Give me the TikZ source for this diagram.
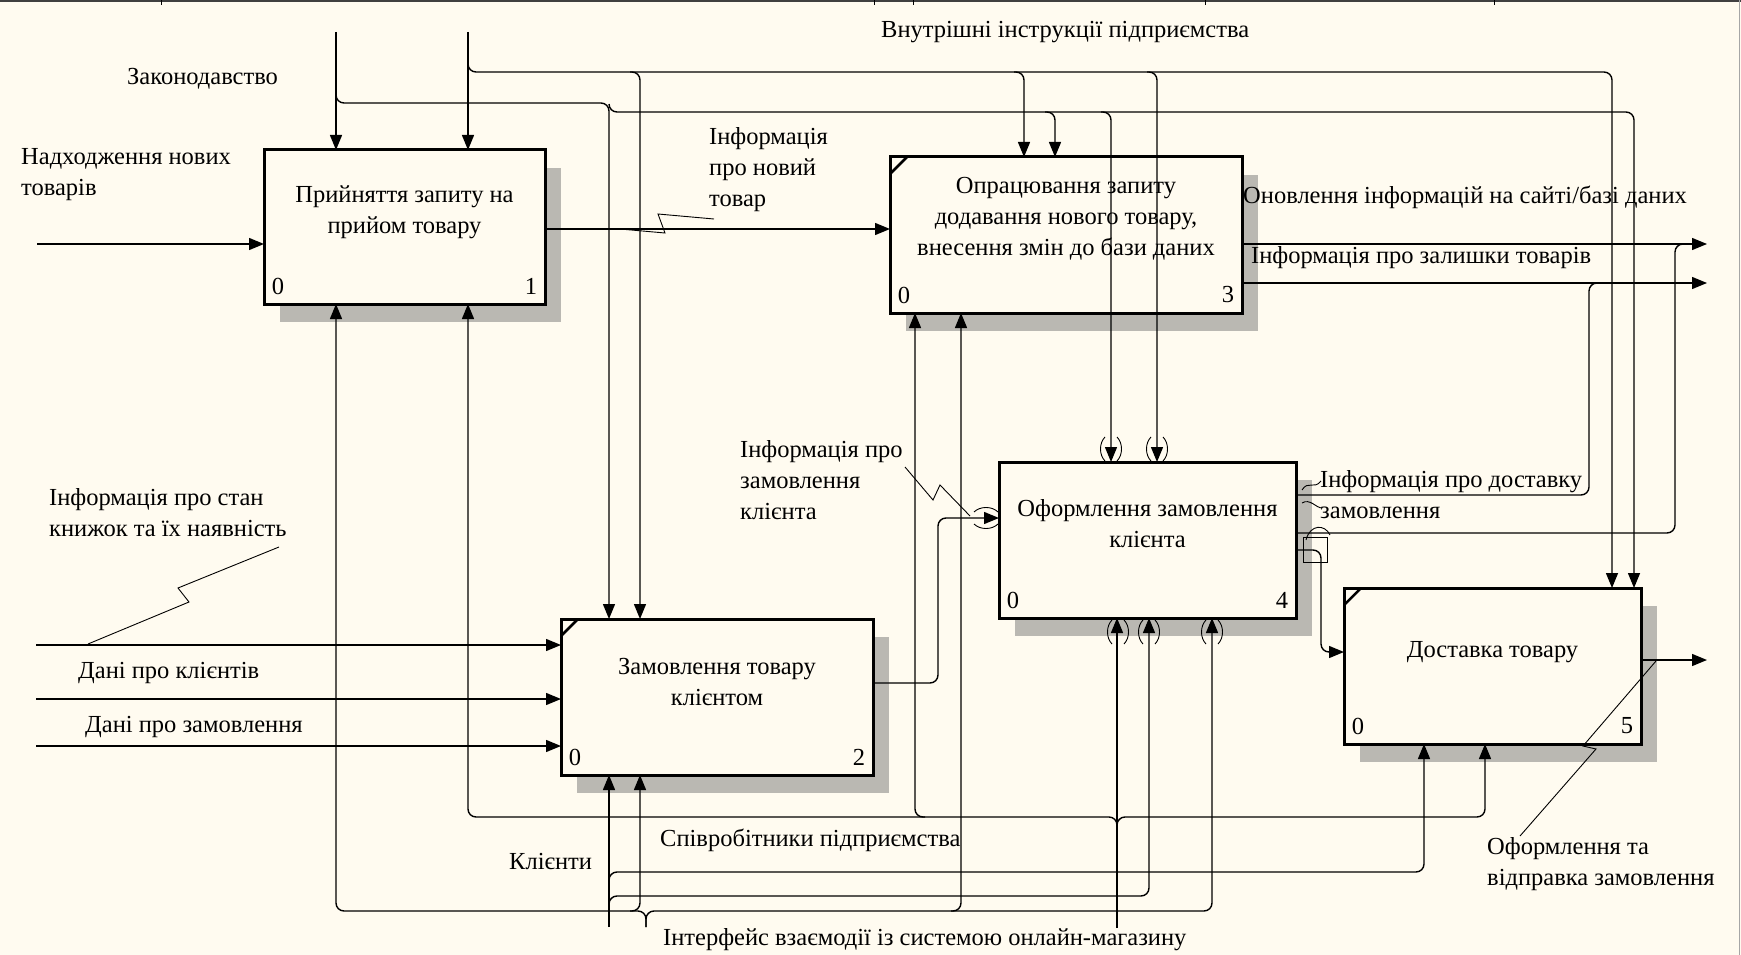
\documentclass[tikz,border=0pt]{standalone}
\usepackage{fontspec}
\setmainfont{Liberation Serif}
\usetikzlibrary{arrows.meta,shadows,calc}
\definecolor{paper}{RGB}{255,251,240}
\definecolor{shade}{RGB}{186,184,178}
\begin{document}
\begin{tikzpicture}[x=1pt,y=-1pt,
  txt/.style={inner sep=0pt,font=\fontsize{24.5}{31}\selectfont},
  lbl/.style={txt,anchor=west,align=left},
  boxtext/.style={txt,align=center},
  func/.style={draw,line width=3pt,fill=paper,anchor=north west,inner sep=0pt,outer sep=0pt,
     drop shadow={shadow xshift=16pt,shadow yshift=-18pt,fill=shade,opacity=1}},
  conn/.style={line width=1.4pt,rounded corners=8pt},
  arr/.style={conn,-{Triangle[length=15pt,width=12pt]}},
  squig/.style={line width=0.9pt},
  vparens/.pic={\draw[line width=0.9pt] (-6,-12) .. controls (-12,-6) and (-12,6) .. (-6,12);
                \draw[line width=0.9pt] (6,-12) .. controls (12,-6) and (12,6) .. (6,12);},
  hparens/.pic={\draw[line width=0.9pt] (-12,-6) .. controls (-6,-12) and (6,-12) .. (12,-6);
                \draw[line width=0.9pt] (-12,6) .. controls (-6,12) and (6,12) .. (12,6);}]

% sheet
\fill[paper] (0,0) rectangle (1741,955);
\useasboundingbox (0,0) rectangle (1741,955);
\draw[line width=2.5pt,black!75] (0,1) -- (1741,1);
\foreach \t in {161,874,913,1205,1494} \draw[line width=1pt] (\t,0) -- (\t,5);
\draw[line width=1pt,black!35] (1739,0) -- (1739,955);

% activity boxes
\node[func,minimum width=281pt,minimum height=154pt] (b1) at (264,150) {};
\node[func,minimum width=312pt,minimum height=156pt] (b2) at (561,619) {};
\node[func,minimum width=352pt,minimum height=156pt] (b3) at (890,157) {};
\node[func,minimum width=297pt,minimum height=156pt] (b4) at (999,462) {};
\node[func,minimum width=297pt,minimum height=156pt] (b5) at (1344,588) {};

\node[boxtext] (b1t) at ($(b1.center)+(0,-15)$) {Прийняття запиту на\\прийом товару};
\node[boxtext] (b2t) at ($(b2.center)+(0,-15)$) {Замовлення товару\\клієнтом};
\node[boxtext] (b3t) at ($(b3.center)+(0,-16)$) {Опрацювання запиту\\додавання нового товару,\\внесення змін до бази даних};
\node[boxtext] (b4t) at ($(b4.center)+(0,-16)$) {Оформлення замовлення\\клієнта};
\node[boxtext] (b5t) at ($(b5.center)+(0,-14)$) {Доставка товару};

\foreach \b/\n in {b1/1,b2/2,b3/3,b4/4,b5/5}{
  \node[txt] (\b z) at ($(\b.south west)+(14,-18)$) {0};
  \node[txt] (\b n) at ($(\b.south east)+(-14,-18)$) {\n};
}
\foreach \b in {b2,b3,b5}
  \draw[line width=2.5pt] ($(\b.north west)+(0,17)$) -- ($(\b.north west)+(17,0)$);

% boundary ends
\coordinate (srcA) at (336,32);
\coordinate (srcB) at (468,32);
\coordinate (in1) at (37,244);
\coordinate (in2a) at (36,645);
\coordinate (in2b) at (36,699);
\coordinate (in2c) at (36,746);
\coordinate (srcK) at (609,927);
\coordinate (srcI) at (646,927);
\coordinate (srcS) at (1117,928);
\coordinate (out3a) at (1707,244);
\coordinate (out3b) at (1707,283);
\coordinate (out5) at (1707,660);

% controls
\draw[arr] (srcA) -- (srcA |- b1.north);
\draw[arr] (srcB) -- (srcB |- b1.north);
\draw[arr] (336,88) |- (609,103) -- (609,0 |- b2.north);
\draw[arr] (609,104) |- (1634,112) -- (1634,0 |- b5.north);
\draw[arr] (1045,112) -| (1055,0 |- b3.north);
\draw[arr] (1101,112) -| (1111,0 |- b4.north);
\draw[arr] (468,62) |- (1612,72) -- (1612,0 |- b5.north);
\draw[arr] (630,72) -| (640,0 |- b2.north);
\draw[arr] (1014,72) -| (1024,0 |- b3.north);
\draw[arr] (1147,72) -| (1157,0 |- b4.north);

% inputs
\draw[arr] (in1) -- (in1 -| b1.west);
\draw[arr] (b1.east |- 0,229) -- (b3.west |- 0,229);
\draw[arr] (in2a) -- (in2a -| b2.west);
\draw[arr] (in2b) -- (in2b -| b2.west);
\draw[arr] (in2c) -- (in2c -| b2.west);
\draw[arr] (b2.east |- 0,683) -| (938,518) -- (b4.west |- 0,518);
\draw[arr] (b4.east |- 0,550) -| (1321,652) -- (b5.west |- 0,652);

% outputs
\draw[arr] (b3.east |- 0,244) -- (out3a);
\draw[arr] (b3.east |- 0,283) -- (out3b);
\draw[conn] (b4.east |- 0,495) -| (1589,283) -- (1600,283);
\draw[conn] (b4.east |- 0,533) -| (1675,244) -- (1686,244);
\draw[arr] (b5.east |- 0,660) -- (out5);

% mechanisms
\draw[arr] (srcK) -- (srcK |- b2.south);
\draw[arr] (609,880) |- (1424,872) -- (1424,0 |- b5.south);
\draw[arr] (609,904) |- (1149,896) -- (1149,0 |- b4.south);
\draw[arr] (srcI) |- (336,911) -- (336,0 |- b1.south);
\draw[arr] (srcI) |- (1212,911) -- (1212,0 |- b4.south);
\draw[arr] (630,911) -| (640,0 |- b2.south);
\draw[arr] (951,911) -| (961,0 |- b3.south);
\draw[arr] (srcS) -- (srcS |- b4.south);
\draw[arr] (srcS |- 0,830) |- (468,817) -- (468,0 |- b1.south);
\draw[arr] (srcS |- 0,830) |- (1485,817) -- (1485,0 |- b5.south);
\draw[arr] (925,817) -| (915,0 |- b3.south);

% tunnel marks
\pic at (1111,449) {vparens};
\pic at (1157,449) {vparens};
\pic at (1118,632) {vparens};
\pic at (1149,632) {vparens};
\pic at (1212,632) {vparens};
\pic at (986,518) {hparens};

% label squiggles
\draw[squig] (620,229) -- (665,233) -- (658,214) -- (714,219);
\draw[squig] (279,547) -- (178,588) -- (189,602) -- (88,644);
\draw[squig] (905,467) -- (933,500) -- (940,485) -- (970,516);
\draw[squig] (1656,661) -- (1583,746) -- (1596,749) -- (1589,757) -- (1520,836);
\draw[squig] (1302,490) .. controls (1308,480) and (1314,490) .. (1321,481);
\draw[squig] (1302,503) .. controls (1310,498) and (1316,508) .. (1322,508);
\draw[squig] (1303,537) rectangle (1327,562);
\draw[squig] (1306,540) .. controls (1310,524) and (1325,524) .. (1330,535);

% arrow labels
\node[lbl] (lZak) at (127,79) {Законодавство};
\node[lbl] (lNad) at (21,175) {Надходження нових\\товарів};
\node[lbl] (lVn) at (881,32) {Внутрішні інструкції підприємства};
\node[lbl] (lNew) at (709,170) {Інформація\\про новий\\товар};
\node[lbl] (lUpd) at (1243,197) {Оновлення інформацій на сайті/базі даних};
\node[lbl] (lRest) at (1251,258) {Інформація про залишки товарів};
\node[lbl] (lStan) at (49,513) {Інформація про стан\\книжок та їх наявність};
\node[lbl] (lKl) at (78,673) {Дані про клієнтів};
\node[lbl] (lZm) at (85,727) {Дані про замовлення};
\node[lbl] (lZk) at (740,480) {Інформація про\\замовлення\\клієнта};
\node[lbl] (lDost) at (1320,495) {Інформація про доставку\\замовлення};
\node[lbl] (lVidp) at (1487,864) {Оформлення та\\відправка замовлення};
\node[lbl] (lSpiv) at (660,840) {Співробітники підприємства};
\node[lbl] (lKlienty) at (509,862) {Клієнти};
\node[lbl] (lInt) at (663,940) {Інтерфейс взаємодії із системою онлайн-магазину};
\end{tikzpicture}
\end{document}
